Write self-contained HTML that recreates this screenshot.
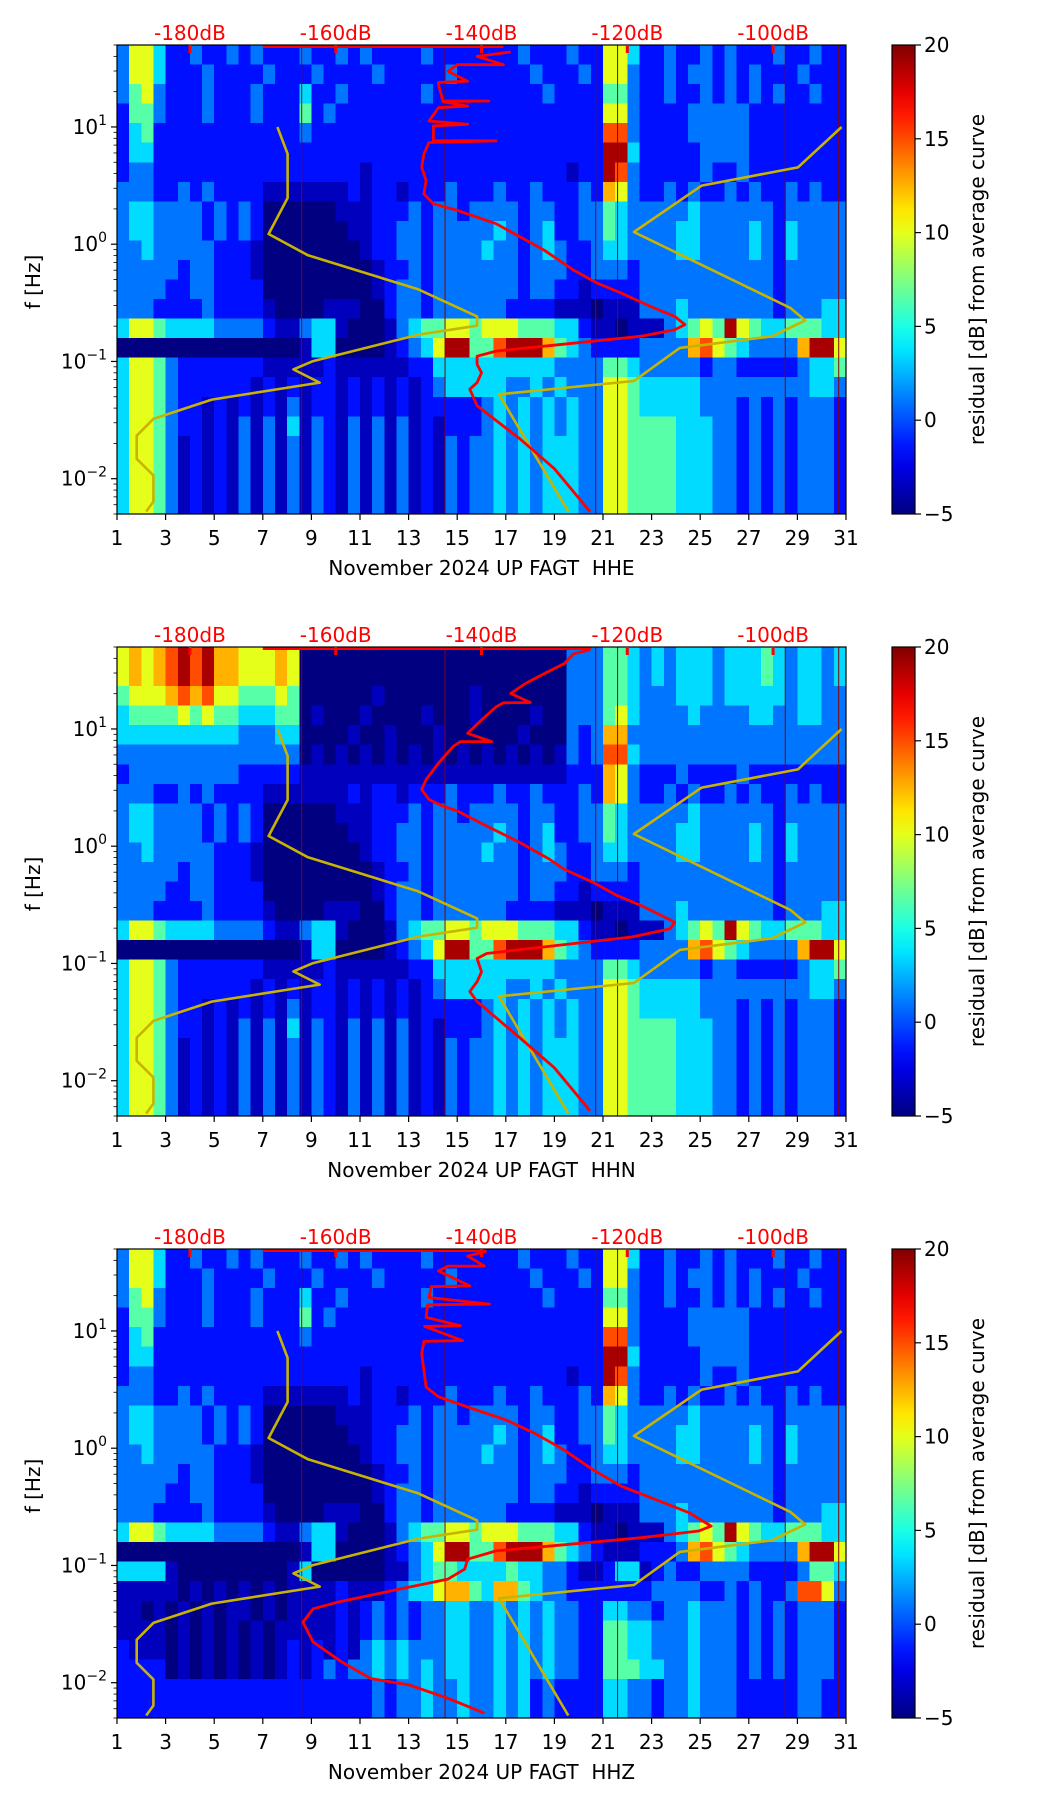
<!DOCTYPE html>
<html><head><meta charset="utf-8"><title>FAGT spectrogram residuals</title>
<style>
html,body{margin:0;padding:0;background:#fff;}
svg{display:block;font-family:"DejaVu Sans","Liberation Sans",sans-serif;}
</style></head>
<body>
<svg id="fig" width="1052" height="1806" viewBox="0 0 1052 1806" xmlns="http://www.w3.org/2000/svg"></svg>
<script>
// ---------------- data ----------------
const panelNames = ["HHE", "HHN", "HHZ"];
const xTicks = [1,3,5,7,9,11,13,15,17,19,21,23,25,27,29,31];
const yTickExps = [-2,-1,0,1];
const dbTicks = [-180,-160,-140,-120,-100];
const cbTicks = [-5,0,5,10,15,20];
const levelValues = [-5,-3.5,-1.5,1,3.5,6.5,10,12.5,15,19];
const eventDays = [8.6,14.5,20.7,21.6,28.5,30.7];

// residual level rows (top = 50 Hz ... bottom = 0.005 Hz), 60 half-day columns in 6 groups of 10
const heatHHE = [
"3664223223 2322232232 3222232222 2223222322 6642232232 3222322322",
"3664222322 2232223222 2322222322 2222322232 6632232332 3232223222",
"3563222322 2322242232 2222232222 2222232222 5532232232 3232322322",
"2553222322 2322252322 2222222222 2222222222 6632222333 3322222222",
"2452222222 2222232222 2222222222 2222222222 8832222333 3322222222",
"2442222222 2222222222 2222222222 2222222222 9942222233 3322222222",
"2332222222 2222222222 1222222222 2222222122 9832222232 2322222222",
"3332232322 2211111112 1221222322 2322322232 7632232322 3232232322",
"3443333232 3200000011 1222323323 3332332233 5433333433 3333233333",
"3443333232 3200000001 1223323333 3432342233 5433334433 3343243333",
"3343333322 2100000000 1223323333 4332343223 4433334433 3343243333",
"3333323322 2100000000 0122323333 3332333223 3323333333 3333233333",
"3333223322 2200000000 0123323333 3332332212 2223333333 3333233333",
"3332222322 2210000111 0023323333 3322221110 1113334333 3333233344",
"4665444433 3321134410 0013455665 6665554421 1011134565 9654455544",
"0000000000 0000014400 0012346995 5899975432 2223333786 5433337996",
"4665322222 2211111211 1111224444 4444443333 5543333323 3222223445",
"4665322222 2121212212 1212123444 4433434333 6654444433 3333333443",
"4665322121 2121312212 1212122222 3434343433 6654444433 3232323332",
"4665322121 3131413213 1313121222 3434343433 6655554443 3232323332",
"4665312121 3131313213 1313121323 3434344433 6655554443 3232323332",
"4665312121 3131313213 1313121323 3434344433 6655554443 3232323332",
"4665312121 3131313213 1313121323 3434344433 6655554443 3232323332",
"4665312121 3131313213 1313121323 3434344433 6655554443 3232323332"
];
const heatHHNTop = [
"6767898977 6667600000 0000000000 0000000333 5543434443 4445434434",
"6767898977 6667600000 0000000000 0000000333 5543434443 4445434434",
"5666787866 5556500000 0100000001 0000000333 5543334443 4444434433",
"4555565655 4445501000 1000010001 0000100333 5643333433 3344334433",
"4444444444 3334400001 0010001000 0001000323 7733333333 3333333333",
"3333333333 3333301010 1010101010 1010101323 8843333333 3333333333",
"2333333333 2222211111 1111111111 1111111222 7632223222 2322222222"
];
const heatHHZLow = [
"0000000000 0000014400 0012346995 5899975432 1112223786 5433337996",
"4444100000 0000140000 0011345544 4454433211 2441232233 3322223554",
"1111101010 1010111121 1123446775 4775433222 2222333322 3232238863",
"1101010101 1010111121 2323233443 3434343322 4433233433 3232323332",
"1111010101 0101111121 2323233443 3434343322 5544333433 3232323332",
"2111010101 0101212121 3434333443 3434343322 5544333433 3232323332",
"2222010101 0101212323 3434343443 3434343322 5554433433 3232323332",
"2222222222 2222222222 2323343343 3434232222 4433233433 3222223322",
"2222222222 2222222222 2323343343 3434232222 4433233433 3222223322"
];

// Peterson low / high noise models as drawn (dB, log10 f)
const nlnmDb = [-168.0,-166.6,-166.6,-169.2,-163.8,-148.7,-140.6,-140.6,-148.6,-163.1,-165.8,-162.2,-177.0,-185.0,-187.3,-187.3,-185.0,-185.0,-186.0];
const nlnmLogF = [1.0,0.771,0.394,0.087,-0.095,-0.385,-0.616,-0.695,-0.771,-0.997,-1.068,-1.18,-1.325,-1.49,-1.633,-1.83,-1.972,-2.195,-2.28];
const nhnmDb = [-90.6,-96.6,-109.8,-119.1,-97.6,-95.6,-100.2,-112.8,-119.1,-137.6,-128.1];
const nhnmLogF = [1.0,0.655,0.5,0.104,-0.545,-0.65,-0.786,-0.884,-1.167,-1.28,-2.28];

// station PSD curves per panel
const psdDbHHE = [-136.0,-140.6,-137.0,-143.3,-144.6,-141.9,-145.9,-145.9,-145.3,-139.0,-145.3,-141.9,-145.9,-147.2,-141.9,-146.6,-146.6,-138.0,-147.2,-147.9,-148.2,-147.6,-147.9,-146.6,-143.3,-138.0,-134.7,-131.4,-127.4,-124.1,-120.8,-116.8,-113.5,-112.1,-113.5,-118.1,-124.7,-131.4,-138.0,-140.6,-140.6,-140.0,-140.6,-141.6,-140.6,-134.7,-130.0,-125.1];
const psdLogFHHE = [1.639,1.602,1.531,1.531,1.475,1.39,1.38,1.362,1.221,1.221,1.216,1.178,1.164,1.051,1.023,1.009,0.882,0.882,0.867,0.769,0.656,0.543,0.429,0.345,0.288,0.175,0.062,-0.051,-0.22,-0.333,-0.418,-0.531,-0.616,-0.686,-0.729,-0.785,-0.827,-0.87,-0.912,-0.955,-1.025,-1.096,-1.18,-1.237,-1.378,-1.661,-1.915,-2.282];
const psdDbHHN = [-125.1,-127.4,-128.7,-131.4,-134.0,-136.0,-133.3,-137.0,-138.0,-140.0,-141.9,-138.6,-142.9,-143.9,-145.9,-147.6,-148.2,-147.2,-145.3,-143.3,-139.3,-134.7,-130.7,-128.7,-124.7,-121.4,-118.1,-113.5,-114.1,-119.4,-131.4,-139.3,-140.6,-140.0,-140.6,-141.6,-140.6,-134.7,-130.0,-125.1];
const psdLogFHHN = [1.675,1.641,1.556,1.472,1.387,1.302,1.226,1.223,1.189,1.076,0.963,0.892,0.892,0.85,0.709,0.568,0.483,0.398,0.342,0.3,0.172,0.031,-0.11,-0.195,-0.308,-0.421,-0.506,-0.647,-0.704,-0.774,-0.859,-0.915,-0.958,-1.071,-1.156,-1.24,-1.325,-1.636,-1.89,-2.257];
const psdDbHHZ = [-139.3,-141.9,-139.6,-144.6,-145.9,-141.6,-146.9,-147.2,-138.9,-147.4,-147.6,-142.9,-147.8,-142.6,-147.9,-148.2,-147.9,-147.6,-145.9,-141.3,-136.6,-132.7,-128.7,-124.7,-120.8,-116.1,-111.5,-108.5,-110.2,-118.1,-128.0,-138.0,-141.9,-142.3,-144.6,-151.2,-159.8,-163.1,-164.5,-163.1,-159.2,-155.2,-149.9,-144.6,-139.6];
const psdLogFHHZ = [1.681,1.638,1.553,1.553,1.511,1.384,1.378,1.285,1.229,1.223,1.116,1.045,1.039,0.918,0.912,0.805,0.664,0.522,0.438,0.339,0.24,0.127,-0.014,-0.184,-0.325,-0.438,-0.551,-0.664,-0.706,-0.763,-0.82,-0.876,-0.947,-1.031,-1.116,-1.201,-1.314,-1.37,-1.483,-1.653,-1.822,-1.964,-2.02,-2.133,-2.26];
const psdTopStartDb = [-170,-170,-170];
const psdTopEndDb = [-137,-125,-139.3];

// ---------------- layout ----------------
const NS = "http://www.w3.org/2000/svg";
const svg = document.getElementById("fig");
const PX0 = 117, PX1 = 846, PH = 469;
const tops = [45, 647, 1249];
const LFMAX = Math.log10(50), LFMIN = Math.log10(0.005);
const CBX0 = 892, CBX1 = 915;
const FS = 20;

function xDay(d){ return PX0 + (d-1)/30*(PX1-PX0); }
function xDb(db){ return PX0 + (db+190)/100*(PX1-PX0); }
function yLog(lf, top){ return top + (LFMAX-lf)/(LFMAX-LFMIN)*PH; }
function jet(v){
  const t = Math.max(0, Math.min(1, (v+5)/25));
  const c = x => Math.round(255*Math.max(0, Math.min(1, x)));
  return "rgb(" + c(1.5-Math.abs(4*t-3)) + "," + c(1.5-Math.abs(4*t-2)) + "," + c(1.5-Math.abs(4*t-1)) + ")";
}
function mk(tag, attrs, parent){
  const e = document.createElementNS(NS, tag);
  for (const k in attrs) e.setAttribute(k, attrs[k]);
  (parent||svg).appendChild(e);
  return e;
}
function clean(s){ return s.replace(/ /g, ""); }
function heatFor(p){
  const rows = heatHHE.map(clean);
  if (p === 1) for (let i=0;i<heatHHNTop.length;i++) rows[i] = clean(heatHHNTop[i]);
  if (p === 2) for (let i=0;i<heatHHZLow.length;i++) rows[15+i] = clean(heatHHZLow[i]);
  return rows;
}
const psdDb = [psdDbHHE, psdDbHHN, psdDbHHZ];
const psdLogF = [psdLogFHHE, psdLogFHHN, psdLogFHHZ];

// defs
const defs = mk("defs", {});
const grad = mk("linearGradient", {id:"jetgrad", x1:"0", y1:"1", x2:"0", y2:"0"}, defs);
for (let i=0;i<=20;i++){
  const v = -5 + i*25/20;
  mk("stop", {offset:(i/20).toFixed(3), "stop-color":jet(v)}, grad);
}
for (let p=0;p<3;p++){
  const cp = mk("clipPath", {id:"clip"+p}, defs);
  mk("rect", {x:PX0, y:tops[p], width:PX1-PX0, height:PH}, cp);
}

for (let p=0;p<3;p++){
  const top = tops[p], bot = top+PH;
  const g = mk("g", {});
  
  

  // heatmap
  const hm = mk("g", {"clip-path":"url(#clip"+p+")", "shape-rendering":"crispEdges"}, g);
  
  
  const rows = heatFor(p);
  for (let i=0;i<rows.length;i++){
    const lfTop = LFMAX - i/6, lfBot = LFMAX - (i+1)/6;
    const y0 = yLog(lfTop, top), y1 = yLog(lfBot, top);
    const row = rows[i];
    for (let j=0;j<60;j++){
      const ch = row.charAt(j) || "2";
      const v = levelValues[parseInt(ch,10)];
      const x0 = xDay(1+j/2), x1 = xDay(1.5+j/2);
      const r = mk("rect", {x:x0.toFixed(2), y:y0.toFixed(2), width:(x1-x0+0.6).toFixed(2), height:(y1-y0+0.6).toFixed(2), fill:jet(v)}, hm);
      
      
    }
  }

  // event lines
  for (const d of eventDays){
    const l = mk("line", {x1:xDay(d), x2:xDay(d), y1:top, y2:bot, stroke:"#8b0000", "stroke-width":1}, g);
    
    
  }

  const lines = mk("g", {"clip-path":"url(#clip"+p+")", fill:"none", "stroke-linejoin":"round"}, g);
  const lo = nlnmDb.map((d,i)=>xDb(d).toFixed(1)+","+yLog(nlnmLogF[i],top).toFixed(1)).join(" ");
  const loL = mk("polyline", {points:lo, stroke:"#c8b400", "stroke-width":2.6}, lines);
  
  
  const hi = nhnmDb.map((d,i)=>xDb(d).toFixed(1)+","+yLog(nhnmLogF[i],top).toFixed(1)).join(" ");
  const hiL = mk("polyline", {points:hi, stroke:"#c8b400", "stroke-width":2.6}, lines);
  
  
  const pts = psdDb[p].map((d,i)=>xDb(d).toFixed(1)+","+yLog(psdLogF[p][i],top).toFixed(1)).join(" ");
  const pl = mk("polyline", {points:pts, stroke:"#ff0000", "stroke-width":2.8}, lines);
  
  
  const tl = mk("line", {x1:xDb(psdTopStartDb[p]), x2:xDb(psdTopEndDb[p]), y1:top+1.5, y2:top+1.5, stroke:"#ff0000", "stroke-width":3}, lines);
  
  

  // frame
  const fr = mk("rect", {x:PX0, y:top, width:PX1-PX0, height:PH, fill:"none", stroke:"#000", "stroke-width":1.2}, g);
  
  

  // x ticks
  for (const d of xTicks){
    const x = xDay(d);
    mk("line", {x1:x, x2:x, y1:bot, y2:bot+6, stroke:"#000", "stroke-width":1.2}, g);
    const t = mk("text", {x:x, y:bot+31, "font-size":FS, "text-anchor":"middle", fill:"#000"}, g);
    t.textContent = d;
    
    
  }
  const xl = mk("text", {x:(PX0+PX1)/2, y:bot+61, "font-size":FS, "text-anchor":"middle", fill:"#000"}, g);
  xl.setAttribute("xml:space", "preserve");
  xl.textContent = "November 2024 UP FAGT\u00a0\u00a0" + panelNames[p];
  
  

  // y ticks
  for (let e=-3;e<=1;e++){
    for (let m=1;m<=9;m++){
      const lf = e + Math.log10(m);
      if (lf < LFMIN-1e-6 || lf > LFMAX+1e-6) continue;
      const y = yLog(lf, top);
      mk("line", {x1:PX0, x2:PX0-(m===1?6:3.5), y1:y, y2:y, stroke:"#000", "stroke-width":m===1?1.2:0.8}, g);
    }
  }
  for (const e of yTickExps){
    const y = yLog(e, top);
    const t = mk("text", {x:PX0-10, y:y+7, "font-size":FS, "text-anchor":"end", fill:"#000"}, g);
    
    
    const a = mk("tspan", {}, t); a.textContent = "10";
    const b = mk("tspan", {dy:-9, "font-size":14}, t); b.textContent = (e<0?"\u2212":"") + Math.abs(e);
  }
  const yl = mk("text", {x:0, y:0, "font-size":FS, "text-anchor":"middle", fill:"#000", transform:"translate(40,"+(top+237)+") rotate(-90)"}, g);
  yl.textContent = "f [Hz]";
  
  

  // top dB axis
  for (const db of dbTicks){
    const x = xDb(db);
    mk("rect", {x:x-1.5, y:top, width:3, height:8, fill:"#ff0000"}, g);
    const t = mk("text", {x:x, y:top-5, "font-size":FS, "text-anchor":"middle", fill:"#ff0000"}, g);
    t.textContent = db + "dB";
    
    
  }

  // colorbar
  const cb = mk("rect", {x:CBX0, y:top, width:CBX1-CBX0, height:PH, fill:"url(#jetgrad)", stroke:"#000", "stroke-width":1.2}, g);
  
  
  for (const v of cbTicks){
    const y = bot - (v+5)/25*PH;
    mk("line", {x1:CBX1, x2:CBX1+6, y1:y, y2:y, stroke:"#000", "stroke-width":1.2}, g);
    const t = mk("text", {x:CBX1+9, y:y+7, "font-size":FS, fill:"#000"}, g);
    t.textContent = v<0 ? "\u2212"+Math.abs(v) : v;
    
    
  }
  const cl = mk("text", {x:0, y:0, "font-size":FS, "text-anchor":"middle", fill:"#000", transform:"translate(984,"+(top+PH/2)+") rotate(-90)"}, g);
  cl.textContent = "residual [dB] from average curve";
  
  
}
</script>
</body></html>
